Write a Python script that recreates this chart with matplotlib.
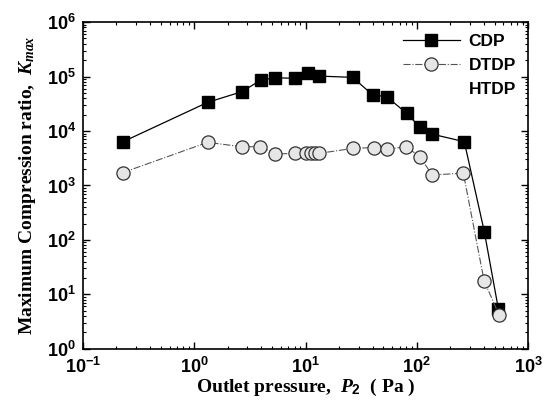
import matplotlib
matplotlib.use("Agg")
import matplotlib.pyplot as plt
from matplotlib.lines import Line2D

plt.rcParams['mathtext.fontset'] = 'custom'
plt.rcParams['mathtext.rm'] = 'Liberation Sans:bold'
plt.rcParams['mathtext.it'] = 'Liberation Serif:bold:italic'
plt.rcParams['mathtext.bf'] = 'Liberation Sans:bold'

# CDP data
cdp_p = [0.227, 1.32, 2.67, 3.98, 5.32, 8.05, 10.6, 13.3, 26.5, 40.2, 53.6,
         81.1, 107, 136, 267, 404, 541]
cdp_k = [6300, 33600, 52600, 86300, 95000, 92700, 114000, 102000, 96600,
         45800, 42700, 21100, 11700, 8800, 6370, 142, 5.35]

# DTDP data
dtdp_p = [0.227, 1.32, 2.67, 3.93, 5.35, 8.05, 10.2, 11.2, 12.2, 13.3, 26.9,
          41, 54.3, 79.4, 107, 137, 262, 402, 548]
dtdp_k = [1720, 6200, 5150, 5150, 3790, 3890, 3950, 3900, 3950, 3890, 4820,
          4950, 4620, 5150, 3380, 1560, 1680, 17.9, 4.2]

fig = plt.figure(figsize=(5.53, 4.09), dpi=100)
ax = fig.add_axes([0.150, 0.147, 0.805, 0.799])

ax.plot(cdp_p, cdp_k, color='black', lw=0.9, marker='s', ms=9,
        mfc='black', mec='black', label='CDP')
ax.plot(dtdp_p, dtdp_k, color='#555555', lw=0.8, ls='-.', marker='o', ms=9.5,
        mfc='#e6e6e6', mec='#333333', mew=0.9, label='DTDP')
htdp = Line2D([], [], color='none', label='HTDP')

ax.set_xscale('log')
ax.set_yscale('log')
ax.set_xlim(0.1, 1000)
ax.set_ylim(1, 1e6)

ax.tick_params(which='both', direction='in', top=True, right=True)
ax.tick_params(which='major', length=5, width=1)
ax.tick_params(axis='x', which='major', pad=6)
ax.tick_params(axis='y', which='major', pad=5)
ax.tick_params(which='minor', length=2.5, width=0.8)
for lab in ax.get_xticklabels() + ax.get_yticklabels():
    lab.set_fontfamily('Liberation Sans')
    lab.set_fontweight('bold')
    lab.set_fontsize(13)
for sp in ax.spines.values():
    sp.set_linewidth(1.2)

ax.set_xlabel(r'Outlet pressure,  $P_2$  ( Pa )', family='Liberation Serif',
              weight='bold', fontsize=14, labelpad=0)
ax.set_ylabel(r'Maximum Compression ratio,  $K_{max}$', family='Liberation Serif',
              weight='bold', fontsize=14, labelpad=6)

h, l = ax.get_legend_handles_labels()
ax.legend(h + [htdp], l + ['HTDP'], loc='upper right', frameon=False,
          prop={'family': 'Liberation Sans', 'weight': 'bold', 'size': 12.5},
          handlelength=3.3, labelspacing=0.5, borderaxespad=0.3, handletextpad=0.5)

fig.savefig('out.png', dpi=100)
